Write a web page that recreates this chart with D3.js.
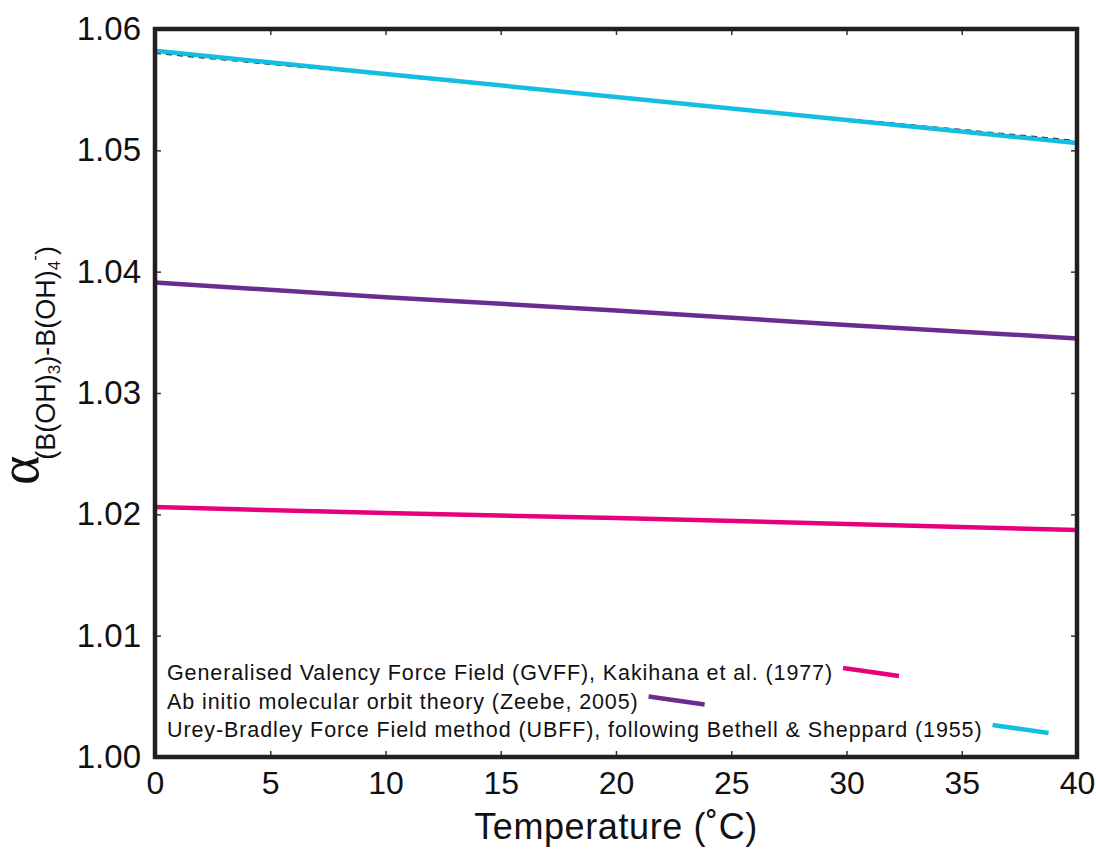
<!DOCTYPE html>
<html>
<head>
<meta charset="utf-8">
<script src="https://d3js.org/d3.v7.min.js"></script>
<style>
  body { margin: 0; background: #fff; }
  text { font-family: "Liberation Sans", Arial, Helvetica, sans-serif; fill: #111; }
</style>
</head>
<body>
<script>
// temperature (deg C) and fractionation factor for each method
var temps = [0, 10, 20, 30, 40];
var gvff = [1.0206, 1.0201, 1.0197, 1.0192, 1.0187];
var abInitio = [1.0391, 1.0379, 1.0368, 1.0356, 1.0345];
var ubff = [1.0582, 1.0563, 1.0544, 1.0525, 1.0506];
var ubffDashed = [1.0580, 1.0562, 1.0544, 1.0526, 1.0508];

var xTicks = [0, 5, 10, 15, 20, 25, 30, 35, 40];
var yTicks = [1.00, 1.01, 1.02, 1.03, 1.04, 1.05, 1.06];

var legendNames = [
  "Generalised Valency Force Field (GVFF), Kakihana et al. (1977)",
  "Ab initio molecular orbit theory (Zeebe, 2005)",
  "Urey-Bradley Force Field method (UBFF), following Bethell & Sheppard (1955)"
];
var colors = ["#e5007e", "#6b2c8f", "#14bde2"];

var width = 1096, height = 849;
var margin = {top: 29, right: 19, bottom: 92, left: 155};
var innerWidth = width - margin.left - margin.right;
var innerHeight = height - margin.top - margin.bottom;

var svg = d3.select("body").append("svg")
  .attr("width", width)
  .attr("height", height);

var g = svg.append("g")
  .attr("transform", "translate(" + margin.left + "," + margin.top + ")");

var x = d3.scaleLinear().domain([0, 40]).range([0, innerWidth]);
var y = d3.scaleLinear().domain([1.00, 1.06]).range([innerHeight, 0]);

// inward ticks on all four sides
var tickStyle = function(sel) {
  sel.select(".domain").remove();
  sel.selectAll(".tick line").attr("stroke", "#333").attr("stroke-width", 1.5);
};

g.append("g")
  .attr("transform", "translate(0," + innerHeight + ")")
  .call(d3.axisBottom(x).tickValues(xTicks).tickSize(-6).tickPadding(14).tickFormat(d3.format("d")))
  .call(tickStyle)
  .selectAll("text").attr("font-size", "32px").attr("fill", "#111");

g.append("g")
  .call(d3.axisTop(x).tickValues(xTicks).tickSize(-6).tickFormat(""))
  .call(tickStyle)
  .selectAll("text").remove();

g.append("g")
  .call(d3.axisLeft(y).tickValues(yTicks).tickSize(-6).tickPadding(14).tickFormat(d3.format(".2f")))
  .call(tickStyle)
  .selectAll("text").attr("font-size", "33px").attr("fill", "#111");

g.append("g")
  .attr("transform", "translate(" + innerWidth + ",0)")
  .call(d3.axisRight(y).tickValues(yTicks).tickSize(-6).tickFormat(""))
  .call(tickStyle)
  .selectAll("text").remove();

// lines
var line = d3.line()
  .x(function(d) { return x(d[0]); })
  .y(function(d) { return y(d[1]); });

function pairs(vals) {
  return temps.map(function(t, i) { return [t, vals[i]]; });
}

g.append("path")
  .datum(pairs(ubffDashed))
  .attr("d", line)
  .attr("fill", "none")
  .attr("stroke", "#222")
  .attr("stroke-width", 1.5)
  .attr("stroke-dasharray", "6,5");

[gvff, abInitio, ubff].forEach(function(vals, i) {
  g.append("path")
    .datum(pairs(vals))
    .attr("d", line)
    .attr("fill", "none")
    .attr("stroke", colors[i])
    .attr("stroke-width", 4.5);
});

// frame
g.append("rect")
  .attr("width", innerWidth)
  .attr("height", innerHeight)
  .attr("fill", "none")
  .attr("stroke", "#231f20")
  .attr("stroke-width", 4.5);

// legend
legendNames.forEach(function(name, i) {
  var ty = 651 + i * 28.5;
  var t = g.append("text")
    .attr("x", 12)
    .attr("y", ty)
    .attr("font-size", "21.5px")
    .attr("letter-spacing", "0.9px")
    .text(name);
  var end = 12 + t.node().getComputedTextLength();
  g.append("line")
    .attr("x1", end + 10).attr("y1", ty - 12)
    .attr("x2", end + 66).attr("y2", ty - 4)
    .attr("stroke", colors[i])
    .attr("stroke-width", 4.5);
});

// axis titles
svg.append("text")
  .attr("x", margin.left + innerWidth / 2)
  .attr("y", 839)
  .attr("text-anchor", "middle")
  .attr("font-size", "36px")
  .attr("letter-spacing", "0.6px")
  .text("Temperature (\u02DAC)");

var yl = svg.append("text")
  .attr("transform", "translate(38,485) rotate(-90)");
yl.append("tspan").attr("font-family", "'Liberation Serif', 'DejaVu Serif', serif")
  .attr("font-size", "56px").text("\u03B1");
yl.append("tspan").attr("font-size", "27px").attr("dx", -4).attr("dy", 17).text("(B(OH)");
yl.append("tspan").attr("font-size", "17px").attr("dy", 5).text("3");
yl.append("tspan").attr("font-size", "27px").attr("dy", -5).text(")-B(OH)");
yl.append("tspan").attr("font-size", "17px").attr("dy", 5).text("4");
yl.append("tspan").attr("font-size", "17px").attr("dy", -20).text("-");
yl.append("tspan").attr("font-size", "27px").attr("dy", 15).text(")");
</script>
</body>
</html>
